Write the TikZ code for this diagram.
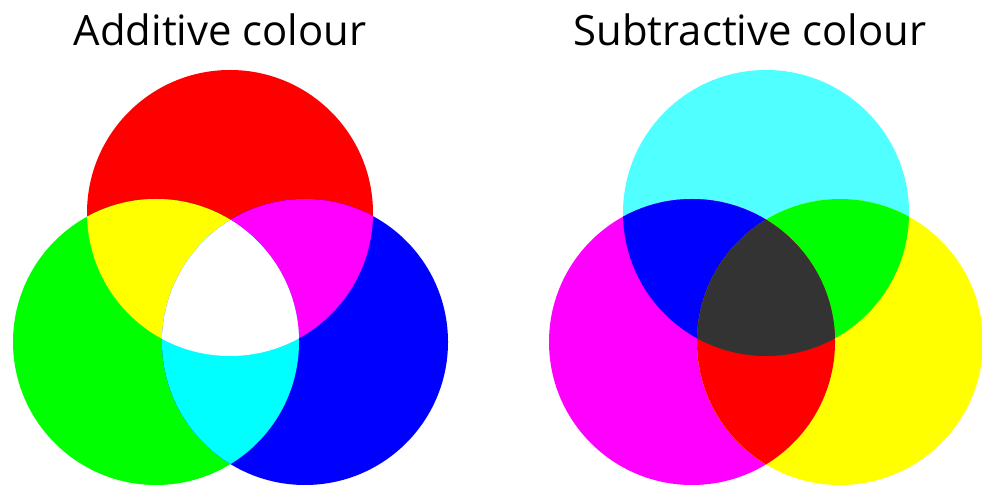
\documentclass[tikz,border=0pt]{standalone}
\usepackage{fontspec}
\setmainfont{Open Sans}
\usepackage{xcolor}
\usepackage{tikz}
\usetikzlibrary{positioning}

\definecolor{pureyellow}{RGB}{255,255,0}
\definecolor{puremagenta}{RGB}{255,0,255}
\definecolor{purecyan}{RGB}{0,255,255}
\definecolor{lightcyan}{RGB}{80,255,255}
\definecolor{darkmix}{RGB}{51,51,51}

\begin{document}
\begin{tikzpicture}[x=0.02cm, y=0.02cm]

% ---------------------------------------------------------
% Parameters
% ---------------------------------------------------------
\pgfmathsetmacro{\rad}{143}        % circle radius
\tikzset{title/.style={anchor=base, font=\fontsize{23.8}{28}\selectfont}}

\useasboundingbox (0,0) rectangle (982,486);

% ---------------------------------------------------------
% Key points
% ---------------------------------------------------------
\coordinate (R) at (230,273);      % red
\coordinate (G) at (156,144);      % green
\coordinate (B) at (305,144);      % blue
\coordinate (C) at (766,273);      % cyan
\coordinate (M) at (692,144);      % magenta
\coordinate (Y) at (840,144);      % yellow

% ---------------------------------------------------------
% Additive colour
% ---------------------------------------------------------
\fill[red]   (R) circle[radius=\rad];
\fill[green] (G) circle[radius=\rad];
\fill[blue]  (B) circle[radius=\rad];

\begin{scope}
  \clip (R) circle[radius=\rad];
  \fill[pureyellow]  (G) circle[radius=\rad];
  \fill[puremagenta] (B) circle[radius=\rad];
\end{scope}
\begin{scope}
  \clip (G) circle[radius=\rad];
  \fill[purecyan] (B) circle[radius=\rad];
\end{scope}
\begin{scope}
  \clip (R) circle[radius=\rad];
  \clip (G) circle[radius=\rad];
  \fill[white] (B) circle[radius=\rad];
\end{scope}

% ---------------------------------------------------------
% Subtractive colour
% ---------------------------------------------------------
\fill[lightcyan]   (C) circle[radius=\rad];
\fill[puremagenta] (M) circle[radius=\rad];
\fill[pureyellow]  (Y) circle[radius=\rad];

\begin{scope}
  \clip (C) circle[radius=\rad];
  \fill[blue]  (M) circle[radius=\rad];
  \fill[green] (Y) circle[radius=\rad];
\end{scope}
\begin{scope}
  \clip (M) circle[radius=\rad];
  \fill[red] (Y) circle[radius=\rad];
\end{scope}
\begin{scope}
  \clip (C) circle[radius=\rad];
  \clip (M) circle[radius=\rad];
  \fill[darkmix] (Y) circle[radius=\rad];
\end{scope}

% ---------------------------------------------------------
% Labels
% ---------------------------------------------------------
\node[title] (addtitle) at (220,440) {Additive colour};
\node[title] (subtitle) at (750,440) {Subtractive colour};

\end{tikzpicture}
\end{document}
